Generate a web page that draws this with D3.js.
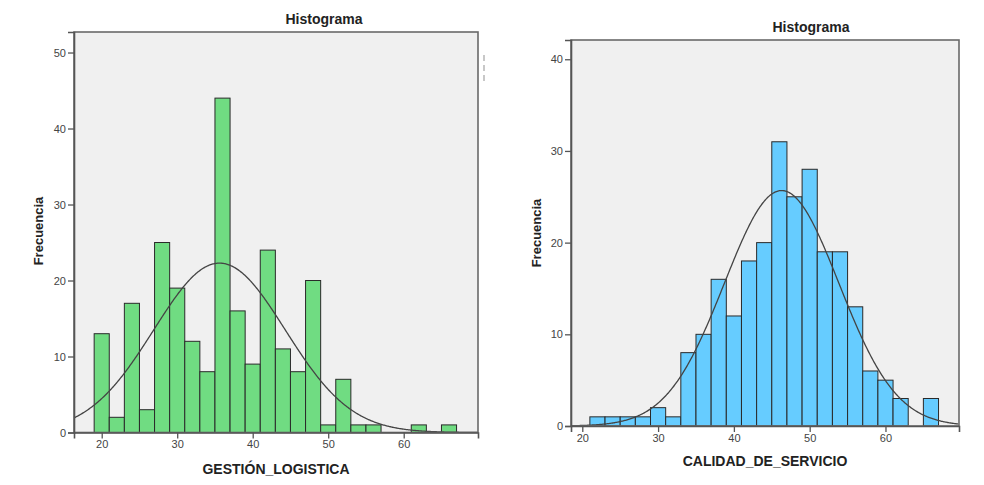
<!DOCTYPE html>
<html>
<head>
<meta charset="utf-8">
<script src="https://cdn.jsdelivr.net/npm/d3@7"></script>
<style>
  body { margin: 0; background: #fff; }
  svg { display: block; }
  text { font-family: "Liberation Sans", Arial, sans-serif; }
</style>
</head>
<body>
<svg id="chart" width="984" height="485"></svg>
<script>
// ---- Data ----
const gestionBinStarts = [19,21,23,25,27,29,31,33,35,37,39,41,43,45,47,49,51,53,55,57,59,61,63,65];
const gestionCounts    = [13, 2,17, 3,25,19,12, 8,44,16, 9,24,11, 8,20, 1, 7, 1, 1, 0, 0, 1, 0, 1];
const calidadBinStarts = [21,23,25,27,29,31,33,35,37,39,41,43,45,47,49,51,53,55,57,59,61,63,65];
const calidadCounts    = [ 1, 1, 1, 1, 2, 1, 8,10,16,12,18,20,31,25,28,19,19,13, 6, 5, 3, 0, 3];
const binWidth = 2;
const yTicksLeft = [0,10,20,30,40,50];
const yTicksRight = [0,10,20,30,40];
const xTicks = [20,30,40,50,60];
// normal curve parameters (fitted, as shown)
const gestionMean = 35.6, gestionSD = 8.7;
const calidadMean = 46.3, calidadSD = 7.55;

const svg = d3.select("#chart");

function drawHist(cfg) {
  const g = svg.append("g");
  const x = d3.scaleLinear().domain(cfg.xDomain).range([cfg.left, cfg.right]);
  const y = d3.scaleLinear().domain(cfg.yDomain).range([cfg.bottom, cfg.top]);

  // plot background
  g.append("rect")
    .attr("x", cfg.left).attr("y", cfg.top)
    .attr("width", cfg.right - cfg.left).attr("height", cfg.bottom - cfg.top)
    .attr("fill", "#f0f0f0");

  // bars
  const data = cfg.starts.map((s, i) => ({ s, c: cfg.counts[i] })).filter(d => d.c > 0);
  g.selectAll("rect.bar").data(data).enter().append("rect")
    .attr("class", "bar")
    .attr("x", d => x(d.s))
    .attr("y", d => y(d.c))
    .attr("width", d => x(d.s + binWidth) - x(d.s))
    .attr("height", d => y(0) - y(d.c))
    .attr("fill", cfg.color)
    .attr("stroke", "#2a2a2a")
    .attr("stroke-width", 1);

  // normal curve
  const N = d3.sum(cfg.counts);
  const pts = d3.range(cfg.xDomain[0], cfg.xDomain[1] + 0.001, 0.1).map(v => {
    const z = (v - cfg.mean) / cfg.sd;
    return [v, N * binWidth * Math.exp(-0.5 * z * z) / (cfg.sd * Math.sqrt(2 * Math.PI))];
  });
  g.append("path")
    .attr("d", d3.line().x(d => x(d[0])).y(d => y(d[1]))(pts))
    .attr("fill", "none").attr("stroke", "#444").attr("stroke-width", 1.3);

  // frame
  g.append("rect")
    .attr("x", cfg.left).attr("y", cfg.top)
    .attr("width", cfg.right - cfg.left).attr("height", cfg.bottom - cfg.top)
    .attr("fill", "none").attr("stroke", "#6a6a6a").attr("stroke-width", 1.6);

  // axes
  const ya = g.append("g").attr("transform", `translate(${cfg.left},0)`)
    .call(d3.axisLeft(y).tickValues(cfg.yTicks).tickSize(6).tickPadding(2).tickFormat(d3.format("d")));
  const xa = g.append("g").attr("transform", `translate(0,${cfg.bottom})`)
    .call(d3.axisBottom(x).tickValues(xTicks).tickSize(6).tickPadding(2).tickFormat(d3.format("d")));
  [ya, xa].forEach(a => {
    a.select(".domain").attr("stroke", "#555").attr("stroke-width", 1.6);
    a.selectAll(".tick line").attr("stroke", "#555").attr("stroke-width", 1.3);
    a.selectAll(".tick text").attr("fill", "#444").style("font-size", "11px");
  });

  // titles
  g.append("text").attr("x", cfg.titleX).attr("y", cfg.titleY)
    .attr("text-anchor", "middle").style("font-size", "14px").style("font-weight", "bold")
    .attr("fill", "#222").text("Histograma");
  g.append("text").attr("x", (cfg.left + cfg.right) / 2).attr("y", cfg.xTitleY)
    .attr("text-anchor", "middle").style("font-size", "14px").style("font-weight", "bold")
    .attr("fill", "#222").text(cfg.xLabel);
  g.append("text")
    .attr("transform", `translate(${cfg.yTitleX},${cfg.yTitleY}) rotate(-90)`)
    .attr("text-anchor", "middle").style("font-size", "13px").style("font-weight", "bold")
    .attr("fill", "#222").text("Frecuencia");
}

drawHist({
  starts: gestionBinStarts, counts: gestionCounts, color: "#70dc82",
  mean: gestionMean, sd: gestionSD,
  xDomain: [16.33, 69.84], yDomain: [0, 52.7],
  left: 74, right: 478, top: 32, bottom: 432.5,
  yTicks: yTicksLeft,
  titleX: 324, titleY: 24, xTitleY: 474, yTitleX: 43, yTitleY: 231,
  xLabel: "GESTIÓN_LOGISTICA"
});

drawHist({
  starts: calidadBinStarts, counts: calidadCounts, color: "#66ccff",
  mean: calidadMean, sd: calidadSD,
  xDomain: [18.51, 69.7], yDomain: [0, 42.1],
  left: 571, right: 959, top: 40, bottom: 426,
  yTicks: yTicksRight,
  titleX: 811, titleY: 32, xTitleY: 466, yTitleX: 541, yTitleY: 233,
  xLabel: "CALIDAD_DE_SERVICIO"
});

// small dashed mark at right of the left chart
svg.append("line")
  .attr("x1", 484).attr("x2", 484).attr("y1", 55).attr("y2", 84)
  .attr("stroke", "#c8c8c8").attr("stroke-width", 2).attr("stroke-dasharray", "6,4");
</script>
</body>
</html>
